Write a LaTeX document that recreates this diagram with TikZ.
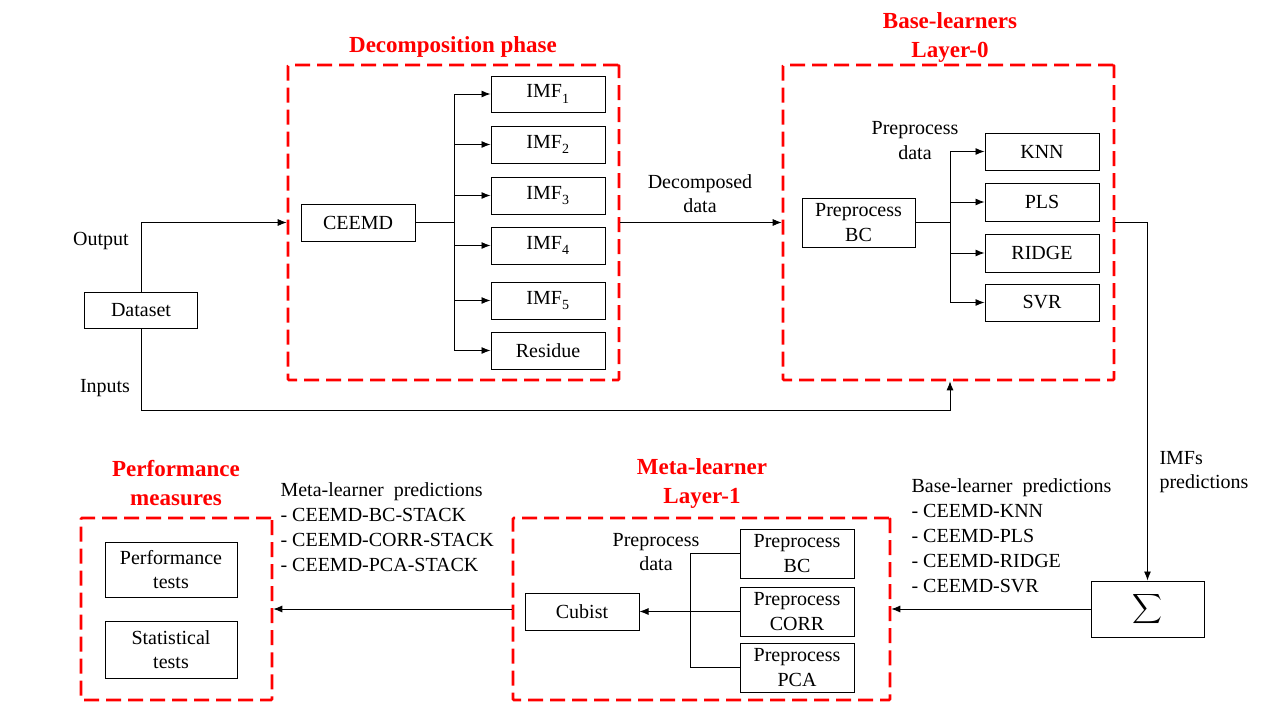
\documentclass[tikz,border=0pt]{standalone}
\usepackage{amsmath}
\usepackage{fontspec}
\setmainfont{Liberation Serif}
\usetikzlibrary{arrows.meta}
\begin{document}
\begin{tikzpicture}[x=1pt,y=-1pt,
  every node/.style={font=\fontsize{20}{24.5}\selectfont},
  box/.style={draw, line width=1pt, inner sep=0pt, align=center},
  phase/.style={draw=red, line width=2.6pt, dash pattern=on 15pt off 7pt, inner sep=0pt, rounded corners=1pt},
  ttl/.style={text=red, font=\fontsize{23}{29}\selectfont\bfseries, align=center},
  lbl/.style={align=center},
  conn/.style={line width=0.9pt},
  arr/.style={conn, -{Latex[length=9pt,width=7pt]}}
]
\useasboundingbox (0,0) rectangle (1280,720);

% phase boxes
\node[phase, minimum width=331pt, minimum height=315pt] (dec) at (453.5,222.5) {};
\node[phase, minimum width=331pt, minimum height=315pt] (base) at (948.5,222.5) {};
\node[phase, minimum width=377pt, minimum height=182pt] (meta) at (701.5,609) {};
\node[phase, minimum width=191pt, minimum height=182pt] (perf) at (176.5,609) {};

% titles
\node[ttl] (tdec) at (453,47) {Decomposition phase};
\node[ttl] (tbase) at (950,37.5) {Base-learners\\Layer-0};
\node[ttl] (tmeta) at (702,483) {Meta-learner\\Layer-1};
\node[ttl] (tperf) at (176,483) {Performance\\measures};

% dataset
\node[box, minimum width=113pt, minimum height=36pt] (ds) at (141,310) {Dataset};
\node[lbl] (lout) at (101,241) {Output};
\node[lbl] (lin) at (105,388) {Inputs};

% decomposition
\node[box, minimum width=114pt, minimum height=37pt] (ceemd) at (358,222.5) {CEEMD};
\node[box, minimum width=114pt, minimum height=36pt] (imf1) at (548,94) {IMF\raisebox{-0.3ex}{\textsubscript{1}}};
\node[box, minimum width=114pt, minimum height=37pt] (imf2) at (548,144.5) {IMF\raisebox{-0.3ex}{\textsubscript{2}}};
\node[box, minimum width=114pt, minimum height=37pt] (imf3) at (548,195.5) {IMF\raisebox{-0.3ex}{\textsubscript{3}}};
\node[box, minimum width=114pt, minimum height=37pt] (imf4) at (548,245.5) {IMF\raisebox{-0.3ex}{\textsubscript{4}}};
\node[box, minimum width=114pt, minimum height=37pt] (imf5) at (548,300.5) {IMF\raisebox{-0.3ex}{\textsubscript{5}}};
\node[box, minimum width=114pt, minimum height=37pt] (res) at (548,350.5) {Residue};

% base learners
\node[box, minimum width=113pt, minimum height=49pt] (pbcb) at (858.5,222.5) {Preprocess\\BC};
\node[box, minimum width=114pt, minimum height=37pt] (knn) at (1042,151.5) {KNN};
\node[box, minimum width=114pt, minimum height=38pt] (pls) at (1042,202) {PLS};
\node[box, minimum width=114pt, minimum height=38pt] (ridge) at (1042,253) {RIDGE};
\node[box, minimum width=114pt, minimum height=37pt] (svr) at (1042,302.5) {SVR};
\node[lbl] (lpdb) at (915,140.5) {Preprocess\\data};

% sigma
\node[box, minimum width=113pt, minimum height=56pt, font=\fontsize{22}{26}\selectfont] (sig) at (1147.5,609) {$\displaystyle\sum$};
\node[anchor=west, align=left] (limf) at (1156,472) {IMFs\\predictions};
\node[anchor=west, align=left, font=\fontsize{20}{25}\selectfont] (lbp) at (908,535.5) {Base-learner~ predictions\\- CEEMD-KNN\\- CEEMD-PLS\\- CEEMD-RIDGE\\- CEEMD-SVR};

% meta learner
\node[box, minimum width=114pt, minimum height=37pt] (cub) at (582,611.5) {Cubist};
\node[box, minimum width=114pt, minimum height=49pt] (mbc) at (797,553.5) {Preprocess\\BC};
\node[box, minimum width=114pt, minimum height=49pt] (mcorr) at (797,611.5) {Preprocess\\CORR};
\node[box, minimum width=114pt, minimum height=49pt] (mpca) at (797,667.5) {Preprocess\\PCA};
\node[lbl] (lpdm) at (656,552) {Preprocess\\data};
\node[anchor=west, align=left, font=\fontsize{20}{25}\selectfont] (lmp) at (277,527.5) {Meta-learner~ predictions\\- CEEMD-BC-STACK\\- CEEMD-CORR-STACK\\- CEEMD-PCA-STACK};

% performance
\node[box, minimum width=132pt, minimum height=55pt] (ptest) at (171,569.5) {Performance\\tests};
\node[box, minimum width=132pt, minimum height=57pt] (stest) at (171,649.5) {Statistical\\tests};

% connectors
\draw[arr] (ds.north) |- (dec.west);
\coordinate (inb) at (950,410);
\draw[arr] (ds.south) |- (inb) -- (inb |- base.south);

\coordinate (dt) at (454,222.5);
\draw[conn, line width=1.8pt] (ceemd.east) -- (dt);
\draw[conn] (dt |- imf1.west) -- (dt |- res.west);
\foreach \n in {imf1,imf2,imf3,imf4,imf5,res}
  \draw[arr] (dt |- \n.west) -- (\n.west);

\draw[arr] (dec.east) -- (base.west);
\node[lbl] (ldd) at (700,193.5) {Decomposed\\data};

\coordinate (bt) at (950,222.5);
\draw[conn, line width=1.8pt] (pbcb.east) -- (bt);
\draw[conn] (bt |- knn.west) -- (bt |- svr.west);
\foreach \n in {knn,pls,ridge,svr}
  \draw[arr] (bt |- \n.west) -- (\n.west);

\draw[arr] (base.east) -| (sig.north);
\draw[arr] (sig.west) -- (meta.east |- sig.west);

\coordinate (mt) at (690,553.5);
\draw[conn] (mbc.west) -- (mt) -- (mt |- mpca.west) -- (mpca.west);
\draw[arr] (mcorr.west) -- (cub.east);

\draw[arr] (meta.west) -- (perf.east);
\end{tikzpicture}
\end{document}
